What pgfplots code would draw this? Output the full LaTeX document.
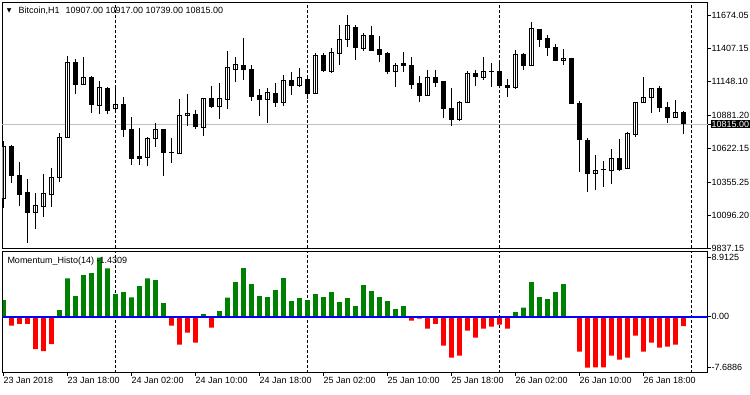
\documentclass[border=0pt]{standalone}
\usepackage{fontspec}
\setmainfont{Liberation Sans}
\newfontfamily\dejavu{DejaVu Sans}
\usepackage{pgfplots}
\usepackage{pgfplotstable}
\pgfplotsset{compat=1.18}
\definecolor{mtgreen}{RGB}{0,128,0}
\definecolor{mtred}{RGB}{255,0,0}
\definecolor{mtblue}{RGB}{0,0,255}
\definecolor{mtgrey}{RGB}{192,192,192}
\newcommand\mtf{\fontsize{9}{10.8}\selectfont}

\pgfplotstableread{
i o h l c
0 10230 10681 10151 10636
1 10636 10647 10353 10408
2 10413 10513 10171 10256
3 10274 10382 9875 10116
4 10119 10274 9985 10169
5 10163 10421 10085 10264
6 10261 10466 10159 10395
7 10395 10747 10360 10710
8 10705 11351 10705 11301
9 11301 11325 11052 11128
10 11128 11341 11122 11183
11 11183 11193 10899 10970
12 10962 11156 10892 11104
13 11096 11104 10892 10923
14 10939 11109 10912 10970
15 10970 11026 10710 10773
16 10773 10868 10492 10545
17 10557 10781 10492 10545
18 10553 10715 10487 10702
19 10702 10821 10636 10773
20 10773 10773 10408 10589
21 10594 10707 10510 10591
22 10579 11010 10579 10881
23 10881 11049 10799 10899
24 10892 10925 10776 10794
25 10789 11018 10721 11012
26 11018 11115 10947 10951
27 10951 11136 10852 11012
28 11010 11390 10933 11262
29 11246 11341 11144 11286
30 11278 11490 11162 11246
31 11246 11278 10999 11030
32 11036 11089 10881 11007
33 11007 11096 10821 11065
34 11057 11136 10951 10983
35 10986 11201 10957 11154
36 11154 11225 11044 11117
37 11117 11254 11104 11183
38 11167 11193 11012 11054
39 11052 11377 11052 11351
40 11351 11372 11225 11235
41 11227 11416 11215 11380
42 11372 11595 11280 11483
43 11483 11674 11420 11587
44 11577 11595 11319 11416
45 11406 11535 11393 11516
46 11516 11587 11393 11393
47 11398 11509 11306 11361
48 11367 11385 11209 11225
49 11227 11298 11109 11278
50 11288 11380 11227 11275
51 11278 11345 11089 11125
52 11136 11193 10991 11038
53 11038 11241 11038 11183
54 11183 11241 11109 11141
55 11146 11154 10865 10936
56 10939 11096 10802 10852
57 10852 10996 10841 10986
58 10986 11230 10986 11215
59 11215 11241 11117 11188
60 11183 11341 11162 11225
61 11225 11298 11104 11226
62 11225 11304 11104 11117
63 11120 11170 11030 11104
64 11101 11398 11089 11364
65 11359 11372 11241 11272
66 11272 11621 11272 11569
67 11556 11556 11424 11483
68 11485 11516 11351 11420
69 11420 11446 11314 11314
70 11314 11404 11280 11333
71 11333 11333 10978 10978
72 10978 10996 10439 10695
73 10681 10707 10282 10427
74 10427 10571 10295 10447
75 10458 10524 10321 10457
76 10447 10618 10340 10545
77 10545 10697 10447 10453
78 10466 10754 10466 10742
79 10734 10986 10715 10986
80 10986 11183 10986 11026
81 11026 11096 10899 11096
82 11096 11115 10912 10947
83 10947 10986 10821 10868
84 10868 11004 10868 10907
85 10907 10917 10739 10815
}\candles

\begin{document}
\begin{tikzpicture}
\useasboundingbox (0pt,0pt) rectangle (750pt,394pt);
\begin{axis}[
  at={(2.5pt,145.5pt)}, anchor=south west,
  scale only axis, width=705pt, height=246.5pt,
  xmin=-0.125, xmax=88, ymin=9834, ymax=11776,
  ybar stacked, bar width=0.45,
  axis line style={black, line width=0.8pt},
  xtick=\empty,
  extra x ticks={14,38,62,86},
  extra x tick labels={,,,},
  extra x tick style={grid=major, major grid style={black, line width=0.8pt, dash pattern=on 3pt off 2pt}, major tick length=0pt},
  ytick={9837.15,10096.20,10355.25,10622.15,10881.20,11148.10,11407.15,11674.05},
  yticklabels={9837.15,10096.20,10355.25,10622.15,10881.20,11148.10,11407.15,11674.05},
  ytick pos=right, yticklabel pos=right,
  tick align=outside, major tick length=3pt,
  tick style={black, line width=0.8pt},
  yticklabel style={font=\mtf, anchor=west, inner sep=1pt},
  extra y ticks={10815}, extra y tick labels={10815.00},
  extra y tick style={grid=major, major grid style={mtgrey, line width=0.8pt}, yticklabel style={fill=black, text=white, inner sep=1pt}},
]
\addplot[draw=none, fill=none,
  error bars/.cd, y dir=both, y explicit, error mark=none,
  error bar style={draw=black, line width=1pt, solid}]
  table[x=i, y expr={min(\thisrow{o},\thisrow{c})},
        y error plus expr={\thisrow{h}-min(\thisrow{o},\thisrow{c})},
        y error minus expr={min(\thisrow{o},\thisrow{c})-\thisrow{l}}] {\candles};
\addplot[fill=white, draw=black, line width=1pt]
  table[x=i, y expr={max(\thisrow{c}-\thisrow{o},0)}] {\candles};
\addplot[fill=black, draw=black, line width=1pt]
  table[x=i, y expr={max(\thisrow{o}-\thisrow{c},0)}] {\candles};
\end{axis}

\begin{axis}[
  at={(2.5pt,21.3pt)}, anchor=south west,
  scale only axis, width=705pt, height=121pt,
  xmin=-0.125, xmax=88, ymin=-8.46, ymax=9.82,
  axis line style={black, line width=0.8pt},
  xtick={0,8,16,24,32,40,48,56,64,72,80},
  xticklabels={23 Jan 2018,23 Jan 18:00,24 Jan 02:00,24 Jan 10:00,24 Jan 18:00,25 Jan 02:00,25 Jan 10:00,25 Jan 18:00,26 Jan 02:00,26 Jan 10:00,26 Jan 18:00},
  xtick pos=bottom, ytick pos=right, yticklabel pos=right,
  tick align=outside, major tick length=3pt,
  tick style={black, line width=0.8pt},
  xticklabel style={font=\mtf, anchor=north west, inner xsep=0pt, inner ysep=1pt},
  yticklabel style={font=\mtf, anchor=west, inner sep=1pt},
  ytick={-7.6886,0,8.9125},
  yticklabels={-7.6886,0.00,8.9125},
  extra x ticks={14,38,62,86},
  extra x tick labels={,,,},
  extra x tick style={grid=major, major grid style={black, line width=0.8pt, dash pattern=on 3pt off 2pt}, major tick length=0pt},
]
\addplot[ybar, bar width=0.59, bar shift=0pt, fill=mtgreen, draw=none] coordinates {
(0,2.52) (7,1.00) (8,5.79) (9,3.12) (10,6.29) (11,6.60) (12,8.9125) (13,7.30)
(14,3.42) (15,3.73) (16,2.92) (17,4.63) (18,5.79) (19,5.54) (20,2.06)
(25,0.40) (27,0.86) (28,2.87) (29,5.24) (30,7.35) (31,4.93) (32,3.12) (33,2.97)
(34,4.03) (35,5.84) (36,2.37) (37,2.82) (38,2.52) (39,3.42) (40,2.97) (41,3.73)
(42,2.22) (43,2.82) (44,1.61) (45,4.78) (46,3.88) (47,2.97) (48,2.37) (49,1.16)
(50,1.61) (64,0.70) (65,1.36) (66,5.24) (67,2.97) (68,2.67) (69,3.73) (70,4.93)
};
\addplot[ybar, bar width=0.59, bar shift=0pt, fill=mtred, draw=none] coordinates {
(1,-1.36) (2,-1.10) (3,-1.10) (4,-4.88) (5,-5.19) (6,-4.13)
(21,-1.36) (22,-4.23) (23,-2.42) (24,-3.93) (26,-1.66)
(51,-0.60) (52,-0.30) (53,-1.81) (54,-1.10) (55,-4.38) (56,-6.19) (57,-5.89)
(58,-2.11) (59,-3.17) (60,-1.81) (61,-1.51) (62,-1.21) (63,-1.81)
(72,-5.29) (73,-7.6886) (74,-7.65) (75,-7.65) (76,-5.89) (77,-6.50) (78,-6.19)
(79,-2.87) (80,-5.29) (81,-3.93) (82,-4.68) (83,-4.53) (84,-4.23) (85,-1.43)
};
\addplot[mtblue, line width=2pt] coordinates {(-1,0) (89,0)};
\end{axis}

\node[anchor=center, inner sep=0pt, font=\dejavu\fontsize{6}{6}\selectfont] at (9.2pt,383.3pt) {▼};
\node[anchor=west, inner sep=0pt, font=\mtf] at (18.3pt,383.3pt) {Bitcoin,H1\hspace{6pt}10907.00 10917.00 10739.00 10815.00};
\node[anchor=west, inner sep=0pt, font=\mtf] at (7.3pt,133pt) {Momentum\_Histo(14) -1.4309};
\end{tikzpicture}
\end{document}
